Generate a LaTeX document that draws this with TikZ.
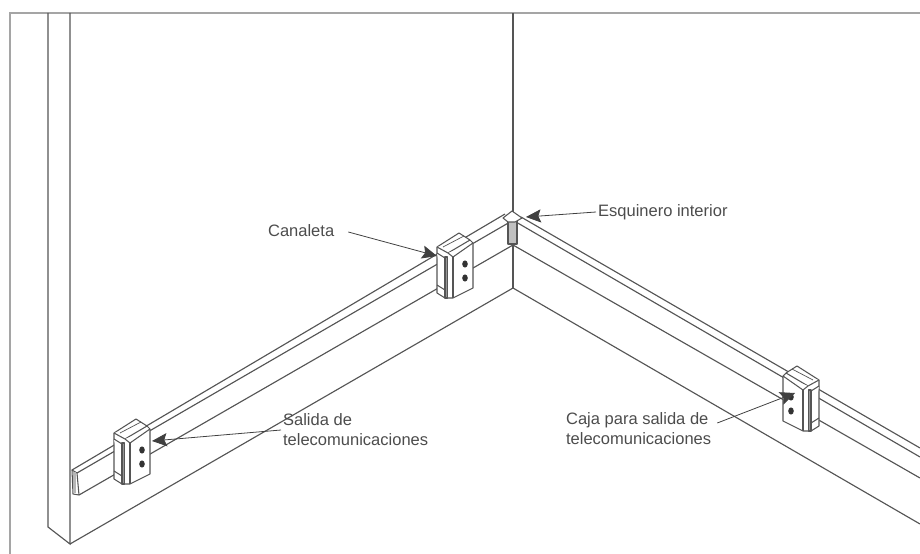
\documentclass[tikz,border=0pt]{standalone}
\usepackage{fontspec}
\setmainfont{Liberation Sans}
\usetikzlibrary{arrows.meta, positioning}
\definecolor{linea}{RGB}{85,85,85}
\definecolor{marco}{RGB}{165,165,165}
\definecolor{sombra}{RGB}{150,150,150}
\begin{document}
\begin{tikzpicture}[
    x=0.02cm, y=-0.02cm,
    muro/.style={draw=linea, line width=0.65pt},
    borde/.style={draw=marco, line width=0.8pt},
    perfil/.style={draw=linea, line width=0.6pt, fill=white, line join=round},
    lbl/.style={font=\fontsize{9.4pt}{11.3pt}\selectfont, text=black!70, inner sep=1pt, align=left},
    arw/.style={-{Stealth[length=8.5pt, width=7.5pt, inset=1.5pt]}, draw=black!75, line width=0.45pt},
    caja/.pic={
      % Tapa y cuerpo
      \draw[perfil] (0,0) -- (0,46) -- (8,51) -- (16,51) -- (36,41) -- (36,-4)
                    -- (33,-7) -- (22,-14) -- cycle;
      \draw[perfil] (0,0) -- (11,6) -- (33,-7);
      \draw[perfil] (0,6) -- (8,11) -- (8,51);
      \draw[perfil] (11,6) -- (16,10) -- (36,-4);
      \draw[perfil] (16,10) -- (16,51);
      \draw[linea, line width=0.4pt] (6,0) -- (27,-11);
      \draw[perfil, fill=sombra] (8,10) rectangle (10.5,51);
      \draw[linea, line width=0.6pt] (0,38) -- (8,43);
      % Orificios
      \fill[black!80] (28,17) circle [x radius=2.8, y radius=3.6];
      \fill[black!80] (28,31) circle [x radius=2.8, y radius=3.6];
    }
  ]
    \useasboundingbox (0,0) rectangle (920,554);
    % Marco y muros
    \draw[borde] (10,554) -- (10,13) -- (920,13);
    \draw[muro] (48,13) -- (48,527) -- (70,544) -- (70,13);
    \draw[muro] (513,13) -- (513,288);
    \draw[muro] (70,544) -- (513,288) -- (920,524);

    % Canaleta izquierda
    \draw[muro] (72,470) -- (505,214);
    \draw[muro] (77,473) -- (510,222);
    \draw[muro] (79,495) -- (513,245);
    \draw[perfil] (72,470) -- (77,473) -- (79,495) -- (73,494) -- cycle;
    \fill[sombra!70] (73,472) rectangle (76,493);

    % Canaleta derecha
    \draw[muro] (521,217) -- (920,448);
    \draw[muro] (516,222) -- (920,457);
    \draw[muro] (513,245) -- (920,478);

    % Esquinero
    \draw[perfil, fill=sombra!60] (508,221) rectangle (517,244);
    \draw[perfil] (503,218) -- (512,211) -- (522,218) -- (515,222) -- (508,222) -- cycle;

    % Cajas
    \pic (cajaizq) at (114,433) {caja};
    \pic (cajamed) at (437,247) {caja};
    \pic[xscale=-1] (cajader) at (819,380) {caja};

    % Rotulos
    \node[lbl, anchor=west] (canaleta) at (266,231) {Canaleta};
    \node[lbl, anchor=west] (esquinero) at (596,212) {Esquinero interior};
    \node[lbl, anchor=west] (salida) at (281,430) {Salida de\\telecomunicaciones};
    \node[lbl, anchor=west] (cajasalida) at (564,429) {Caja para salida de\\telecomunicaciones};

    % Puntas
    \coordinate (pcanaleta) at (437,256);
    \coordinate (pesquinero) at (526,217);
    \coordinate (psalida) at (152,441);
    \coordinate (pcaja) at (795,393);

    % Flechas
    \draw[arw] (canaleta.east) ++(12,1) -- (pcanaleta);
    \draw[arw] (esquinero.west) -- (pesquinero);
    \draw[arw] (salida.west) -- (psalida);
    \draw[arw] (cajasalida.east) ++(4,-6) -- (pcaja);
  \end{tikzpicture}
\end{document}
